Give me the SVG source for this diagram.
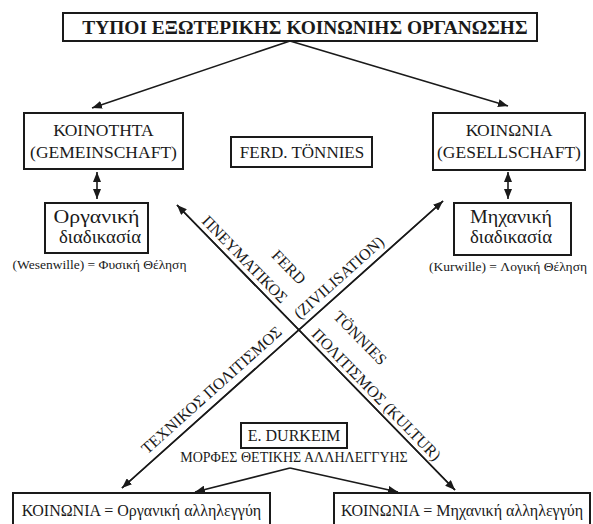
<svg xmlns="http://www.w3.org/2000/svg" width="593" height="524" viewBox="0 0 593 524">
<defs>
<marker id="ah" viewBox="0 0 10 8" refX="10" refY="4" markerWidth="10" markerHeight="8" markerUnits="userSpaceOnUse" orient="auto-start-reverse">
<path d="M0,0 L10,4 L0,8 Z" fill="#1a1a1a"/>
</marker>
<style>
.box{fill:#fff;stroke:#1a1a1a;stroke-width:2}
.t{font-family:"Liberation Serif","Times New Roman",serif;fill:#1a1a1a}
.c{text-anchor:middle}
.ln{stroke:#1a1a1a;stroke-width:1.6;fill:none;marker-end:url(#ah)}
.dbl{stroke:#1a1a1a;stroke-width:1.6;fill:none;marker-end:url(#ah);marker-start:url(#ah)}
.lab{font-size:16px}
</style>
</defs>
<rect width="593" height="524" fill="#fff"/>
<g id="connectors">
<line class="ln" x1="290" y1="41" x2="92" y2="108"/>
<line class="ln" x1="290" y1="41" x2="508" y2="106"/>
<line class="dbl" x1="97" y1="172" x2="97" y2="199"/>
<line class="dbl" x1="508" y1="172" x2="508" y2="199"/>
<line class="ln" x1="443" y1="201" x2="122" y2="488"/>
<line class="ln" x1="177" y1="205" x2="455" y2="490"/>
<line class="ln" x1="455" y1="490" x2="177" y2="205"/>
<line class="ln" x1="122" y1="488" x2="443" y2="201"/>
<line class="ln" x1="290" y1="468" x2="195" y2="492"/>
<line class="ln" x1="290" y1="468" x2="398" y2="492"/>
<g class="t lab">
<text class="c" transform="translate(241,263) rotate(45.7)">ΠΝΕΥΜΑΤΙΚΟΣ</text>
<text class="c" transform="translate(285,271) rotate(45.7)">FERD</text>
<text class="c" transform="translate(342.4,281.5) rotate(-41.8)">(ZIVILISATION)</text>
<text class="c" transform="translate(356.3,341.7) rotate(45.7)">TÖNNIES</text>
<text class="c" transform="translate(372.6,398.4) rotate(45.7)">ΠΟΛΙΤΙΣΜΟΣ (KULTUR)</text>
<text class="c" transform="translate(215.1,394) rotate(-41.8)">ΤΕΧΝΙΚΟΣ ΠΟΛΙΤΙΣΜΟΣ</text>
</g>
</g>
<g id="title">
<rect class="box" x="63" y="13" width="474" height="28"/>
<text class="t c" x="305" y="34" font-size="19.4" font-weight="bold">ΤΥΠΟΙ ΕΞΩΤΕΡΙΚΗΣ ΚΟΙΝΩΝΙΗΣ ΟΡΓΑΝΩΣΗΣ</text>
</g>
<g id="koinotita">
<rect class="box" x="24" y="113" width="159" height="56"/>
<text class="t c" x="103.5" y="136" font-size="17.5">ΚΟΙΝΟΤΗΤΑ</text>
<text class="t c" x="103.5" y="158" font-size="17.5">(GEMEINSCHAFT)</text>
</g>
<g id="tonnies">
<rect class="box" x="231" y="137" width="141" height="30"/>
<text class="t c" x="302" y="158" font-size="17">FERD. TÖNNIES</text>
</g>
<g id="koinonia-top">
<rect class="box" x="433" y="113" width="152" height="57"/>
<text class="t c" x="509" y="136" font-size="17.5">ΚΟΙΝΩΝΙΑ</text>
<text class="t c" x="509" y="158" font-size="17.5">(GESELLSCHAFT)</text>
</g>
<g id="organiki">
<rect class="box" x="45" y="203" width="103" height="50"/>
<text class="t c" x="96.5" y="223" font-size="18" textLength="86" lengthAdjust="spacingAndGlyphs">Οργανική</text>
<text class="t c" x="100" y="243" font-size="18" textLength="82" lengthAdjust="spacingAndGlyphs">διαδικασία</text>
</g>
<text class="t c" x="99.5" y="269" font-size="13.5">(Wesenwille) = Φυσική Θέληση</text>
<g id="michaniki">
<rect class="box" x="454" y="203" width="117" height="52"/>
<text class="t c" x="511" y="223" font-size="18" textLength="82" lengthAdjust="spacingAndGlyphs">Μηχανική</text>
<text class="t c" x="511" y="243" font-size="18" textLength="82" lengthAdjust="spacingAndGlyphs">διαδικασία</text>
</g>
<text class="t c" x="508" y="271" font-size="13.5">(Kurwille) = Λογική Θέληση</text>
<g id="durkeim">
<rect class="box" x="241" y="423" width="106" height="25"/>
<text class="t c" x="294" y="441" font-size="16">E. DURKEIM</text>
</g>
<text class="t c" x="294" y="462" font-size="14">ΜΟΡΦΕΣ ΘΕΤΙΚΗΣ ΑΛΛΗΛΕΓΓΥΗΣ</text>
<g id="organiki-allileggyi">
<rect class="box" x="13" y="493" width="257" height="40"/>
<text class="t c" x="141.5" y="516" font-size="16">ΚΟΙΝΩΝΙΑ = Οργανική αλληλεγγύη</text>
</g>
<g id="michaniki-allileggyi">
<rect class="box" x="334" y="493" width="256" height="40"/>
<text class="t c" x="462" y="516" font-size="16">ΚΟΙΝΩΝΙΑ = Μηχανική αλληλεγγύη</text>
</g>
</svg>
